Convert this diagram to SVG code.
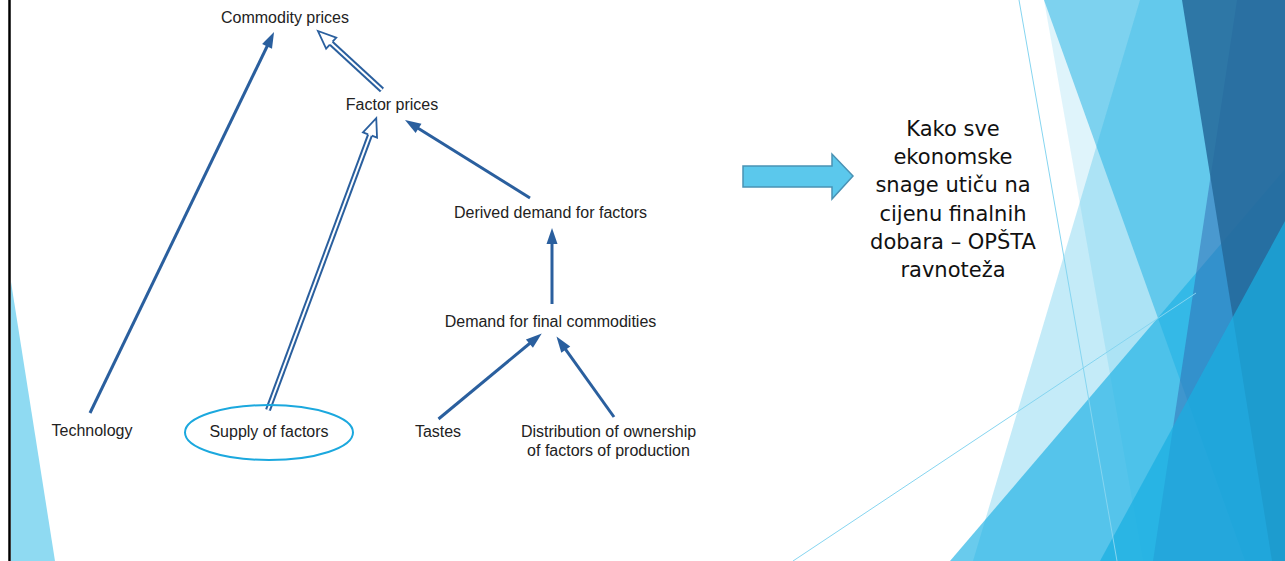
<svg xmlns="http://www.w3.org/2000/svg" width="1285" height="561" viewBox="0 0 1285 561">
<style>
.lbl{font-family:"Liberation Sans",Arial,sans-serif;font-size:16px;fill:#222;text-anchor:middle}
.rt{font-family:"DejaVu Sans","Open Sans",sans-serif;font-size:21px;fill:#111;text-anchor:middle}
.arr{stroke:#2A5F9E;stroke-width:3;fill:none;marker-end:url(#ah)}
.dbo{stroke:#2A5F9E;stroke-width:6;fill:none}
.dbi{stroke:#fff;stroke-width:2;fill:none;marker-end:url(#hh)}
.cy{fill:#1CB0E4}
.thin{stroke:#86D5F0;stroke-width:1;fill:none}
</style>
<defs>
<marker id="ah" markerUnits="userSpaceOnUse" viewBox="-2 -7 19 14" markerWidth="19" markerHeight="14" refX="0" refY="0" orient="auto" overflow="visible"><path d="M-1,-5.5 L15,0 L-1,5.5 z" fill="#2A5F9E"/></marker>
<marker id="hh" markerUnits="userSpaceOnUse" viewBox="-2 -10 22 20" markerWidth="22" markerHeight="20" refX="0" refY="0" orient="auto" overflow="visible"><path d="M0,-2 L0,-7.5 L18,0 L0,7.5 L0,2" fill="#fff" stroke="#2A5F9E" stroke-width="1.8"/></marker>
</defs>
<rect width="1285" height="561" fill="#fff"/>
<g id="background">
<polygon points="11,282 55,561 11,561" fill="#8FDAF2"/>
<line x1="9.5" y1="0" x2="9.5" y2="561" stroke="#000" stroke-width="2.5"/>
<polygon class="cy" opacity="0.14" points="1044,0 1285,0 1285,561 1143,561"/>
<polygon class="cy" opacity="0.5" points="1044,0 1285,0 1285,561 1245,561"/>
<polygon class="cy" opacity="0.26" points="1140,0 1285,0 1285,561 973,561"/>
<polygon class="cy" opacity="0.66" points="1285,169 950,561 1285,561"/>
<polygon fill="#3169B1" opacity="0.5" points="1237,0 1285,0 1285,561 1153,561"/>
<polygon fill="#25689A" opacity="0.85" points="1182,0 1285,0 1285,561 1272,561"/>
<polygon fill="#1AAEE2" opacity="0.71" points="1285,221 1100,561 1285,561"/>
<line class="thin" x1="1019" y1="0" x2="1117" y2="561"/>
<line class="thin" x1="793" y1="561" x2="1196" y2="293"/>
</g>
<g id="connectors">
<line class="arr" x1="90" y1="413" x2="267.5" y2="45.5"/>
<line class="dbo" x1="382" y1="90" x2="331.2" y2="43.2"/>
<line class="dbi" x1="382" y1="90" x2="331.2" y2="43.2"/>
<line class="dbo" x1="268" y1="410" x2="370" y2="135"/>
<line class="dbi" x1="268" y1="410" x2="370" y2="135"/>
<line class="arr" x1="530" y1="198" x2="417.7" y2="127.9"/>
<line class="arr" x1="552" y1="304" x2="552" y2="243"/>
<line class="arr" x1="438.5" y1="419" x2="530.2" y2="343"/>
<line class="arr" x1="614" y1="417" x2="565.2" y2="348.8"/>
</g>
<g id="n-commodity"><text class="lbl" x="285" y="22.5">Commodity prices</text></g>
<g id="n-factor"><text class="lbl" x="392" y="110">Factor prices</text></g>
<g id="n-derived"><text class="lbl" x="550.5" y="218">Derived demand for factors</text></g>
<g id="n-demand"><text class="lbl" x="550.5" y="327">Demand for final commodities</text></g>
<g id="n-technology"><text class="lbl" x="92" y="436">Technology</text></g>
<g id="n-supply"><ellipse cx="269" cy="432.5" rx="84" ry="27.5" fill="none" stroke="#1BA8DE" stroke-width="2"/><text class="lbl" x="269" y="436.5">Supply of factors</text></g>
<g id="n-tastes"><text class="lbl" x="438" y="436.5">Tastes</text></g>
<g id="n-distribution"><text class="lbl" x="608.5" y="436.5">Distribution of ownership</text><text class="lbl" x="608.5" y="455.5">of factors of production</text></g>
<g id="block-arrow"><polygon points="743,166 832,166 832,154 853,176 832,199 832,187 743,187" fill="#5BC8EC" stroke="#4A92B4" stroke-width="1.5"/></g>
<g id="note"><text class="rt" x="953" y="136">Kako sve</text><text class="rt" x="953" y="164.2">ekonomske</text><text class="rt" x="953" y="192.4">snage utiču na</text><text class="rt" x="953" y="220.6">cijenu finalnih</text><text class="rt" x="953" y="248.8">dobara – OPŠTA</text><text class="rt" x="953" y="277">ravnoteža</text></g>
</svg>
